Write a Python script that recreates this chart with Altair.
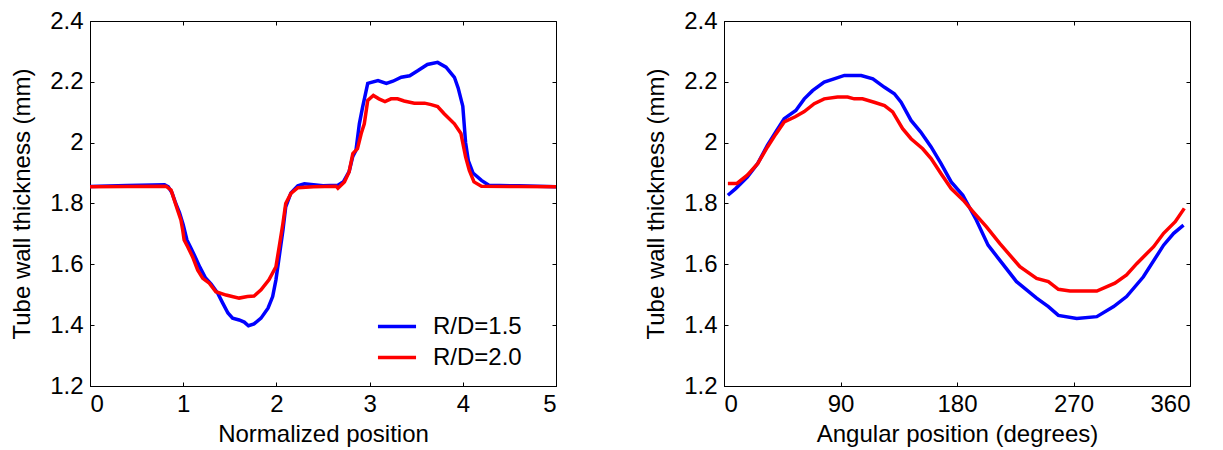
import altair as alt
import pandas as pd

# ---------------- data ----------------
series_names = ["R/D=1.5", "R/D=2.0"]
series_colors = ["#0000ff", "#ff0000"]

# Left panel: wall thickness vs normalized position
pos_b = [0, 0.4, 0.80, 0.84, 0.88, 0.92, 0.96, 1.00, 1.04, 1.08,
         1.12, 1.18, 1.24, 1.30, 1.37, 1.42, 1.48, 1.53, 1.60, 1.655,
         1.70, 1.76, 1.835, 1.91, 1.96, 1.995, 2.03, 2.07, 2.10, 2.156,
         2.23, 2.30, 2.5, 2.66, 2.72, 2.78, 2.82, 2.854, 2.89, 2.925,
         2.98, 3.09, 3.18, 3.25, 3.34, 3.43, 3.52, 3.62, 3.73, 3.82,
         3.91, 3.95, 4.00, 4.03, 4.06, 4.11, 4.20, 4.28, 4.6, 5.0]
thk_b = [1.856, 1.859, 1.862, 1.855, 1.835, 1.80, 1.77, 1.73, 1.68, 1.655,
         1.63, 1.59, 1.555, 1.535, 1.505, 1.475, 1.44, 1.423, 1.417, 1.410,
         1.398, 1.404, 1.423, 1.456, 1.494, 1.549, 1.625, 1.712, 1.789, 1.835,
         1.858, 1.865, 1.858, 1.860, 1.872, 1.905, 1.955, 1.975, 2.062, 2.117,
         2.195, 2.204, 2.195, 2.202, 2.215, 2.220, 2.237, 2.257, 2.264, 2.248,
         2.215, 2.180, 2.12, 2.00, 1.94, 1.90, 1.876, 1.860, 1.858, 1.855]

pos_r = [0, 0.4, 0.815, 0.87, 0.905, 0.94, 0.976, 0.995, 1.01, 1.048,
         1.10, 1.156, 1.21, 1.28, 1.35, 1.46, 1.60, 1.69, 1.76, 1.835,
         1.92, 1.995, 2.03, 2.07, 2.10, 2.156, 2.23, 2.4, 2.64, 2.66,
         2.73, 2.78, 2.82, 2.87, 2.91, 2.943, 2.98, 3.04, 3.10, 3.165,
         3.23, 3.30, 3.37, 3.48, 3.59, 3.66, 3.73, 3.80, 3.91, 3.98,
         4.03, 4.07, 4.12, 4.20, 4.6, 5.0]
thk_r = [1.855, 1.856, 1.857, 1.844, 1.811, 1.778, 1.745, 1.712, 1.68, 1.658,
         1.625, 1.581, 1.554, 1.538, 1.51, 1.499, 1.489, 1.494, 1.496, 1.516,
         1.549, 1.592, 1.658, 1.734, 1.80, 1.833, 1.852, 1.855, 1.857, 1.850,
         1.871, 1.904, 1.964, 1.98, 2.03, 2.062, 2.139, 2.155, 2.144, 2.135,
         2.144, 2.144, 2.137, 2.13, 2.13, 2.125, 2.119, 2.095, 2.062, 2.03,
         1.953, 1.909, 1.871, 1.857, 1.856, 1.855]

# Right panel: wall thickness vs angular position
ang_b = [3, 9, 18, 26, 33.5, 40, 46.5, 55.5, 62, 68.4,
         77.4, 85, 93, 106, 115, 124, 131.6, 136.8, 144.5, 152,
         160, 167.7, 175.5, 184.5, 195, 204, 213, 226, 241.5, 250.6,
         258.3, 272.5, 288, 301, 311, 324, 339.6, 347.4, 355]
ang_thk_b = [1.827, 1.849, 1.887, 1.931, 1.991, 2.035, 2.079, 2.106, 2.144, 2.171,
             2.199, 2.21, 2.221, 2.221, 2.21, 2.182, 2.161, 2.133, 2.073, 2.035,
             1.986, 1.931, 1.871, 1.827, 1.745, 1.663, 1.614, 1.543, 1.489, 1.461,
             1.432, 1.422, 1.428, 1.461, 1.494, 1.559, 1.663, 1.702, 1.729]

ang_r = [3, 10, 18, 26, 33.5, 40, 46.5, 55, 62, 69.7,
         77.4, 87.7, 95.5, 100.6, 107, 116, 124, 130.3, 138, 144.5,
         153.5, 160, 167.7, 175.5, 184.8, 192, 202.8, 213, 228.6, 241.5,
         250.6, 258.3, 267.3, 288, 302, 311, 319, 331.9, 339.6, 348.6,
         355.6]
ang_thk_r = [1.866, 1.866, 1.893, 1.931, 1.985, 2.028, 2.068, 2.085, 2.102, 2.128,
             2.144, 2.15, 2.15, 2.144, 2.144, 2.133, 2.122, 2.101, 2.046, 2.013,
             1.98, 1.948, 1.898, 1.849, 1.811, 1.775, 1.723, 1.669, 1.592, 1.554,
             1.543, 1.518, 1.512, 1.512, 1.538, 1.565, 1.603, 1.658, 1.702, 1.74,
             1.784]

left_x_ticks = [0, 1, 2, 3, 4, 5]
right_x_ticks = [0, 90, 180, 270, 360]
y_ticks = [1.2, 1.4, 1.6, 1.8, 2.0, 2.2, 2.4]

left_df = pd.DataFrame({
    "x": pos_b + pos_r,
    "y": thk_b + thk_r,
    "series": [series_names[0]] * len(pos_b) + [series_names[1]] * len(pos_r),
})
right_df = pd.DataFrame({
    "x": ang_b + ang_r,
    "y": ang_thk_b + ang_thk_r,
    "series": [series_names[0]] * len(ang_b) + [series_names[1]] * len(ang_r),
})

# ---------------- styling ----------------
FONT = "Liberation Sans"
FS = 24
W, H = 466, 365
TK = 4  # inward tick length (drawn as dashed grid at both ends)


def panel(df, xtitle, xdomain, xticks, legend):
    color_legend = None
    if legend:
        color_legend = alt.Legend(
            title=None, orient="none", legendX=286, legendY=290,
            symbolType="stroke", symbolSize=1450, symbolStrokeWidth=3.5,
            labelFont=FONT, labelFontSize=FS, labelColor="#000",
            labelOffset=15, rowPadding=0, clipHeight=31, padding=0,
        )
    return alt.Chart(df).mark_line(strokeWidth=3.5).encode(
        x=alt.X("x:Q",
                scale=alt.Scale(domain=xdomain, nice=False, zero=False),
                axis=alt.Axis(values=xticks, title=xtitle, format="d",
                              grid=True, gridDash=[TK, H - 2 * TK, TK, 1000],
                              gridColor="#000", gridOpacity=1, gridWidth=1,
                              ticks=False, tickSize=0, labelPadding=6,
                              titlePadding=6,
                              labelFont=FONT, labelFontSize=FS, labelColor="#000",
                              titleFont=FONT, titleFontSize=FS, titleColor="#000",
                              titleFontWeight="normal",
                              domainColor="#000", domainWidth=1)),
        y=alt.Y("y:Q",
                scale=alt.Scale(domain=[1.2, 2.4], nice=False, zero=False),
                axis=alt.Axis(values=y_ticks, title="Tube wall thickness (mm)",
                              labelExpr="datum.value == 2 ? '2' : format(datum.value, '.1f')",
                              grid=True, gridDash=[TK, W - 2 * TK, TK, 1000],
                              gridColor="#000", gridOpacity=1, gridWidth=1,
                              ticks=False, tickSize=0, labelPadding=7,
                              titlePadding=15,
                              labelFont=FONT, labelFontSize=FS, labelColor="#000",
                              titleFont=FONT, titleFontSize=FS, titleColor="#000",
                              titleFontWeight="normal",
                              domainColor="#000", domainWidth=1)),
        color=alt.Color("series:N",
                        scale=alt.Scale(domain=series_names, range=series_colors),
                        legend=color_legend),
    ).properties(width=W, height=H)


left = panel(left_df, "Normalized position", [0, 5], left_x_ticks, True)
right = panel(right_df, "Angular position (degrees)", [0, 360], right_x_ticks, False)

chart = alt.hconcat(left, right, spacing=80).properties(
    padding={"left": 2, "top": 0, "right": 0, "bottom": 0}
).configure_view(
    stroke="#000", strokeWidth=1
)

chart.save("out.html", embed_options={"renderer": "svg", "actions": False})
